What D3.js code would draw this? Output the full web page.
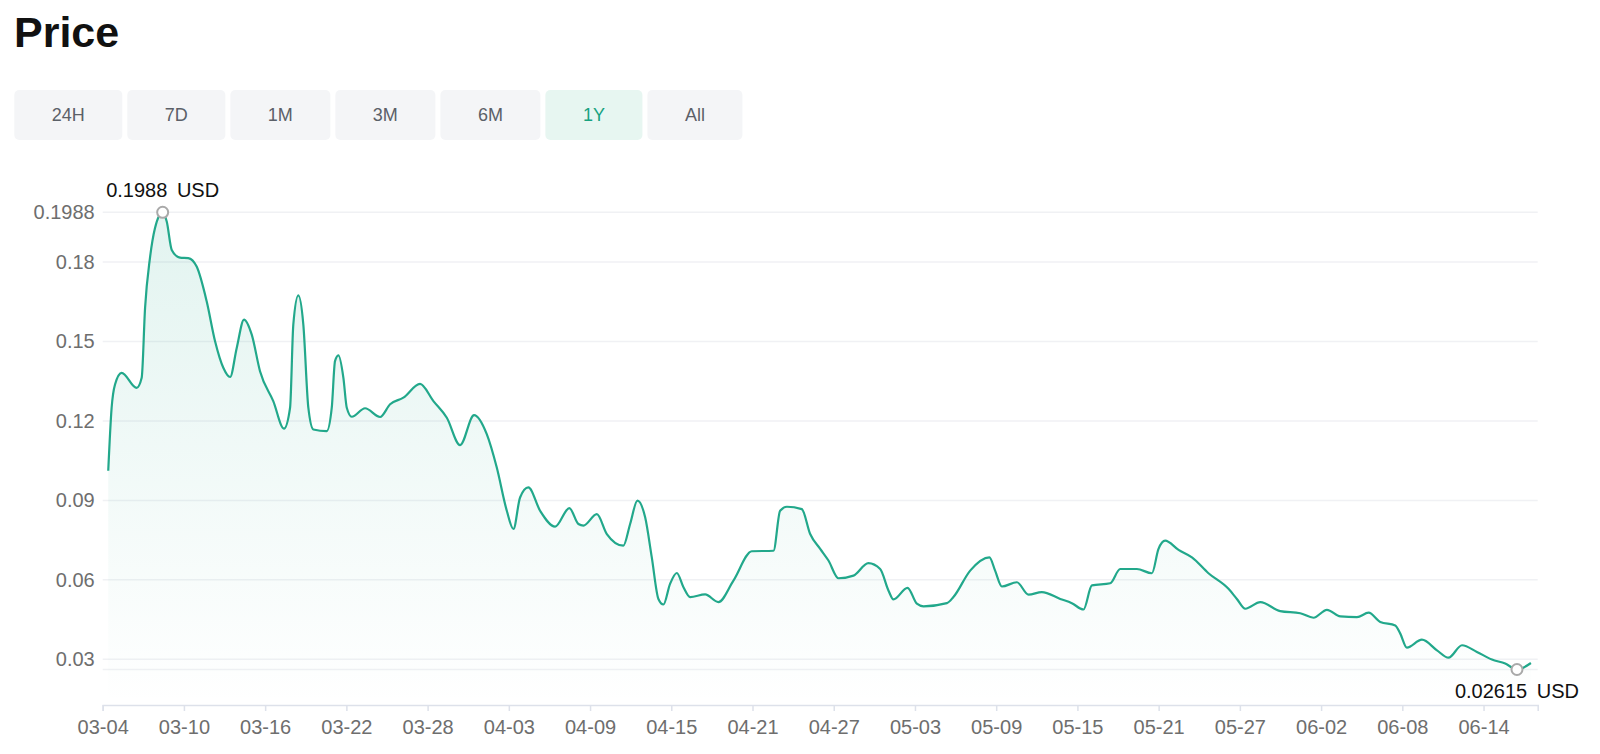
<!DOCTYPE html>
<html>
<head>
<meta charset="utf-8">
<script src="https://cdn.jsdelivr.net/npm/d3@7"></script>
<style>
  body { margin: 0; background: #fff; }
  svg { display: block; font-family: "Liberation Sans", Arial, sans-serif; }
</style>
</head>
<body>
<div id="content"></div>
<script>
// price history, days counted from 03-04
var dayOffsets = [0.41, 0.66, 0.91, 1.40, 2.51, 2.88, 3.13, 3.49, 3.86, 4.43, 4.73, 5.10, 5.71, 6.32, 6.94,
  7.68, 8.30, 8.91, 9.41, 9.90, 10.44, 11.01, 11.62, 12.60, 13.39, 13.84, 14.08, 14.45, 14.82, 15.19,
  15.56, 16.55, 16.92, 17.16, 17.41, 17.78, 18.03, 18.40, 19.38, 20.49, 21.23, 22.21, 23.44, 24.43, 25.42,
  26.40, 27.43, 28.37, 29.11, 29.85, 30.34, 30.83, 31.44, 32.31, 33.42, 34.47, 35.14, 35.51, 36.50, 37.24,
  38.46, 38.96, 39.50, 40.07, 40.56, 41.05, 41.42, 41.91, 42.41, 42.90, 43.39, 44.50, 45.48, 46.59, 47.95,
  49.55, 50.04, 50.54, 51.64, 52.26, 53.00, 53.61, 54.35, 55.46, 56.56, 57.43, 58.04, 58.41, 59.45, 60.14,
  60.63, 62.36, 62.84, 64.08, 65.50, 65.92, 66.42, 67.53, 68.39, 69.37, 70.73, 71.59, 72.45, 73.07, 74.42,
  75.16, 76.39, 77.50, 77.99, 78.48, 79.47, 80.46, 81.68, 83.16, 83.78, 84.40, 85.51, 86.98, 88.46, 89.44,
  90.43, 91.42, 92.65, 93.51, 94.37, 95.48, 95.85, 96.34, 97.45, 98.56, 99.41, 100.41, 101.51, 102.62, 103.60,
  104.47, 105.50];
var prices = [0.1012, 0.1250, 0.1338, 0.1382, 0.1325, 0.1363, 0.1627, 0.1815, 0.1928, 0.1988, 0.1953, 0.1846, 0.1817, 0.1815, 0.1783,
  0.1652, 0.1501, 0.1401, 0.1366, 0.1476, 0.1583, 0.1526, 0.1388, 0.1275, 0.1171, 0.1250, 0.1564, 0.1674, 0.1564, 0.1250,
  0.1168, 0.1162, 0.1250, 0.1426, 0.1448, 0.1363, 0.1250, 0.1216, 0.1248, 0.1215, 0.1263, 0.1288, 0.1340, 0.1275, 0.1212,
  0.1109, 0.1222, 0.1150, 0.1024, 0.0861, 0.0792, 0.0911, 0.0949, 0.0861, 0.0801, 0.0871, 0.0811, 0.0805, 0.0848, 0.0773,
  0.0729, 0.0811, 0.0899, 0.0836, 0.0685, 0.0528, 0.0507, 0.0585, 0.0626, 0.0572, 0.0535, 0.0545, 0.0516, 0.0597, 0.0708,
  0.0710, 0.0861, 0.0876, 0.0867, 0.0773, 0.0717, 0.0673, 0.0606, 0.0616, 0.0663, 0.0641, 0.0560, 0.0526, 0.0570, 0.0510,
  0.0500, 0.0512, 0.0535, 0.0635, 0.0685, 0.0635, 0.0575, 0.0591, 0.0544, 0.0554, 0.0528, 0.0512, 0.0488, 0.0579, 0.0587,
  0.0641, 0.0641, 0.0625, 0.0717, 0.0748, 0.0713, 0.0685, 0.0625, 0.0566, 0.0528, 0.0491, 0.0516, 0.0482, 0.0474, 0.0457,
  0.0487, 0.0462, 0.0459, 0.0476, 0.0441, 0.0428, 0.0397, 0.0344, 0.0374, 0.0334, 0.0306, 0.0353, 0.0328, 0.0299, 0.0284,
  0.02615, 0.0286];

var rangeButtons = ["24H", "7D", "1M", "3M", "6M", "1Y", "All"];
var activeRange = "1Y";
var yTickValues = [0.03, 0.06, 0.09, 0.12, 0.15, 0.18, 0.1988];
var currency = "USD";

var startDate = new Date(2024, 2, 4);
var endDate = new Date(2024, 5, 18);

var frameWidth = 1600;
var frameHeight = 754;
var lineColor = "#22a88b";

var points = dayOffsets.map(function(d, i) {
  return { date: d3.timeMinute.offset(startDate, Math.round(d * 1440)), value: prices[i] };
});

var frame = d3.select("#content").append("svg")
                                    .attr("width", frameWidth)
                                    .attr("height", frameHeight);

frame.append("text")
        .text("Price")
        .attr("x", 14)
        .attr("y", 47)
        .attr("font-size", 43)
        .attr("font-weight", "bold")
        .attr("fill", "#111");

// range buttons
var buttonGroup = frame.append("g");
var bx = 14.3;
rangeButtons.forEach(function(label) {
  var g = buttonGroup.append("g");
  var t = g.append("text")
            .text(label)
            .attr("font-size", 18)
            .attr("fill", label === activeRange ? "#17a27f" : "#5b6068")
            .attr("text-anchor", "middle")
            .attr("y", 121);
  var w = t.node().getComputedTextLength() + 75;
  g.insert("rect", "text")
      .attr("x", bx)
      .attr("y", 90)
      .attr("width", w)
      .attr("height", 50)
      .attr("rx", 5)
      .attr("fill", label === activeRange ? "#e7f6f1" : "#f4f5f7");
  t.attr("x", bx + w / 2);
  bx += w + 5;
});

var x = d3.scaleTime().domain([startDate, endDate]).range([102.7, 1537.7]);
var y = d3.scaleLinear().domain([d3.min(prices), d3.max(prices)]).range([669.5, 212.3]);

// grid lines
var gridValues = [d3.min(prices)].concat(yTickValues);
frame.append("g")
        .selectAll("line")
        .data(gridValues)
        .enter().append("line")
        .attr("x1", x.range()[0])
        .attr("x2", x.range()[1])
        .attr("y1", function(d) { return y(d); })
        .attr("y2", function(d) { return y(d); })
        .attr("stroke", "#f0f1f4")
        .attr("stroke-width", 1.5);

var defs = frame.append("defs");
var grad = defs.append("linearGradient")
                  .attr("id", "areaFill")
                  .attr("gradientUnits", "userSpaceOnUse")
                  .attr("x1", 0).attr("x2", 0)
                  .attr("y1", y.range()[1]).attr("y2", 705);
grad.append("stop").attr("offset", 0).attr("stop-color", lineColor).attr("stop-opacity", 0.13);
grad.append("stop").attr("offset", 1).attr("stop-color", lineColor).attr("stop-opacity", 0);

var area = d3.area()
              .x(function(d) { return x(d.date); })
              .y0(705)
              .y1(function(d) { return y(d.value); })
              .curve(d3.curveMonotoneX);
var line = d3.line()
              .x(function(d) { return x(d.date); })
              .y(function(d) { return y(d.value); })
              .curve(d3.curveMonotoneX);

frame.append("path")
        .datum(points)
        .attr("d", area)
        .attr("fill", "url(#areaFill)");
frame.append("path")
        .datum(points)
        .attr("d", line)
        .attr("fill", "none")
        .attr("stroke", lineColor)
        .attr("stroke-width", 2.2)
        .attr("stroke-linejoin", "round");

// axes
var xAxis = d3.axisBottom(x)
              .tickValues(d3.timeDay.range(startDate, endDate, 6))
              .tickFormat(d3.timeFormat("%m-%d"))
              .tickSize(6)
              .tickSizeOuter(6)
              .tickPadding(9);
var xAxisGroup = frame.append("g")
                        .attr("transform", "translate(0,705)")
                        .call(xAxis);
xAxisGroup.selectAll("path, line").attr("stroke", "#dde1ea").attr("stroke-width", 1.5);
xAxisGroup.selectAll("text").attr("font-size", 20).attr("fill", "#6e6e6e").attr("font-family", null);

var yAxis = d3.axisLeft(y)
              .tickValues(yTickValues)
              .tickFormat(function(d) { return String(+d.toFixed(4)); })
              .tickSize(0)
              .tickPadding(8);
var yAxisGroup = frame.append("g")
                        .attr("transform", "translate(102.7,0)")
                        .call(yAxis);
yAxisGroup.select(".domain").remove();
yAxisGroup.selectAll("text").attr("font-size", 20).attr("fill", "#6e6e6e").attr("font-family", null);

// max / min markers
var maxPoint = points[d3.maxIndex(points, function(d) { return d.value; })];
var minPoint = points[d3.minIndex(points, function(d) { return d.value; })];

[[maxPoint, -15], [minPoint, 28]].forEach(function(m) {
  var p = m[0];
  frame.append("circle")
          .attr("cx", x(p.date))
          .attr("cy", y(p.value))
          .attr("r", 5.5)
          .attr("fill", "#fff")
          .attr("stroke", "#a9a9a9")
          .attr("stroke-width", 2);
  frame.append("text")
          .text(p.value + " " + currency)
          .attr("x", x(p.date))
          .attr("y", y(p.value) + m[1])
          .attr("text-anchor", "middle")
          .attr("font-size", 20)
          .attr("word-spacing", 4)
          .attr("fill", "#111");
});
</script>
</body>
</html>
